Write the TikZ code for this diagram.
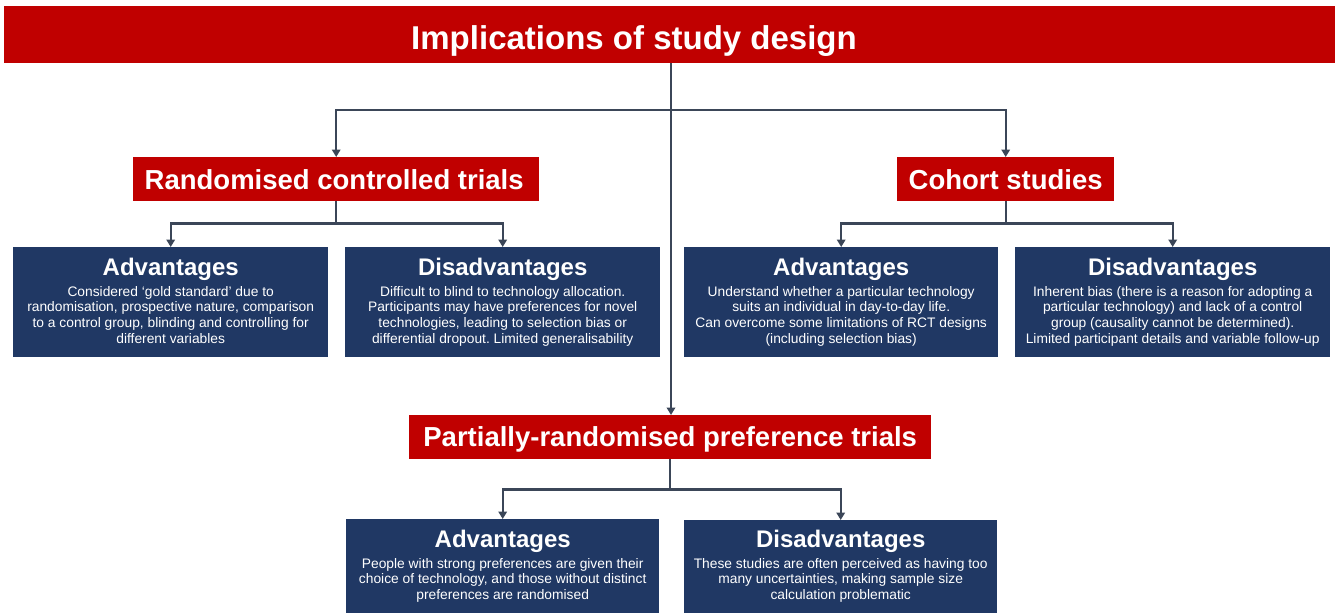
\documentclass[tikz,border=0pt]{standalone}
\usepackage{fontspec}
\setmainfont{Liberation Sans}
\usetikzlibrary{arrows.meta,calc}
\frenchspacing
\definecolor{dred}{HTML}{C00000}
\definecolor{navy}{HTML}{203864}
\definecolor{conncol}{HTML}{3B4658}
\tikzset{
  redbar/.style={fill=dred, draw=none, inner sep=0pt, anchor=north west},
  navybox/.style={fill=navy, draw=none, inner sep=0pt, anchor=north west},
  titletext/.style={text=white, inner sep=0pt, font=\fontsize{33}{36}\selectfont\bfseries},
  subtext/.style={text=white, inner sep=0pt, font=\fontsize{27.5}{30}\selectfont\bfseries},
  headtext/.style={text=white, inner sep=0pt, font=\fontsize{24}{26}\selectfont\bfseries},
  bodytext/.style={text=white, inner sep=0pt, font=\fontsize{13.8}{15.7}\selectfont},
  conn/.style={draw=conncol, line width=2.2pt},
  arr/.style={conn, -{Triangle[width=8.5pt,length=7.5pt]}},
}
\newcommand{\bodypar}[1]{\parbox[t]{330pt}{\centering\frenchspacing #1}}
\begin{document}
\begin{tikzpicture}[x=1pt,y=1pt]
\useasboundingbox (0,0) rectangle (1335,-613);
% title
\node[redbar, minimum width=1331pt, minimum height=57pt] (tbar) at (4,-6) {};
\node[titletext, anchor=base] (ttext) at (634,-49) {Implications of study design};
% second level
\node[redbar, minimum width=406pt, minimum height=44pt] (rct) at (133,-157) {};
\node[subtext, anchor=base] (rctt) at ($(rct.center)+(-2,-10)$) {Randomised controlled trials};
\node[redbar, minimum width=217pt, minimum height=44pt] (coh) at (897,-157) {};
\node[subtext, anchor=base] (coht) at ($(coh.center)+(0,-10)$) {Cohort studies};
\node[redbar, minimum width=522pt, minimum height=44pt] (prpt) at (409,-415) {};
\node[subtext, anchor=base] (prptt) at ($(prpt.center)+(0,-9)$) {Partially-randomised preference trials};
% boxes
\node[navybox, minimum width=315pt, minimum height=110pt] (a1) at (13,-247) {};
\node[navybox, minimum width=315pt, minimum height=110pt] (d1) at (345,-247) {};
\node[navybox, minimum width=314pt, minimum height=110pt] (a2) at (684,-247) {};
\node[navybox, minimum width=315pt, minimum height=110pt] (d2) at (1015,-247) {};
\node[navybox, minimum width=313pt, minimum height=94pt] (a3) at (346,-519) {};
\node[navybox, minimum width=313pt, minimum height=93pt] (d3) at (684,-520) {};
% headings
\node[headtext, anchor=base] (a1h) at ($(a1.north)+(0,-28)$) {Advantages};
\node[headtext, anchor=base] (d1h) at ($(d1.north)+(0,-28)$) {Disadvantages};
\node[headtext, anchor=base] (a2h) at ($(a2.north)+(0,-28)$) {Advantages};
\node[headtext, anchor=base] (d2h) at ($(d2.north)+(0,-28)$) {Disadvantages};
\node[headtext, anchor=base] (a3h) at ($(a3.north)+(0,-28)$) {Advantages};
\node[headtext, anchor=base] (d3h) at ($(d3.north)+(0,-27)$) {Disadvantages};
% bodies
\node[bodytext, anchor=base] (a1b) at ($(a1h.base)+(0,-21)$) {\bodypar{Considered ‘gold standard’ due to\\randomisation, prospective nature, comparison\\to a control group, blinding and controlling for\\different variables}};
\node[bodytext, anchor=base] (d1b) at ($(d1h.base)+(0,-21)$) {\bodypar{Difficult to blind to technology allocation.\\Participants may have preferences for novel\\technologies, leading to selection bias or\\differential dropout. Limited generalisability}};
\node[bodytext, anchor=base] (a2b) at ($(a2h.base)+(0,-21)$) {\bodypar{Understand whether a particular technology\\suits an individual in day-to-day life.\\Can overcome some limitations of RCT designs\\(including selection bias)}};
\node[bodytext, anchor=base] (d2b) at ($(d2h.base)+(0,-21)$) {\bodypar{Inherent bias (there is a reason for adopting a\\particular technology) and lack of a control\\group (causality cannot be determined).\\Limited participant details and variable follow-up}};
\node[bodytext, anchor=base] (a3b) at ($(a3h.base)+(0,-21)$) {\bodypar{People with strong preferences are given their\\choice of technology, and those without distinct\\preferences are randomised}};
\node[bodytext, anchor=base] (d3b) at ($(d3h.base)+(0,-21)$) {\bodypar{These studies are often perceived as having too\\many uncertainties, making sample size\\calculation problematic}};
% connectors
\coordinate (top) at (671,-63);
\coordinate (j0) at (671,-110);
\draw[arr] (top) -- (top |- prpt.north);
\draw[arr] (j0) -| (rct.north);
\draw[arr] (j0) -| (coh.north);
\coordinate (j1) at ($(rct.south)+(0,-22)$);
\draw[conn] (rct.south) -- (j1);
\draw[arr] (j1) -| (a1.north);
\draw[arr] (j1) -| (d1.north);
\coordinate (j2) at ($(coh.south)+(0,-22)$);
\draw[conn] (coh.south) -- (j2);
\draw[arr] (j2) -| (a2.north);
\draw[arr] (j2) -| (d2.north);
\coordinate (j3) at ($(prpt.south)+(0,-30)$);
\draw[conn] (prpt.south) -- (j3);
\draw[arr] (j3) -| (a3.north);
\draw[arr] (j3) -| (d3.north);
\end{tikzpicture}
\end{document}
